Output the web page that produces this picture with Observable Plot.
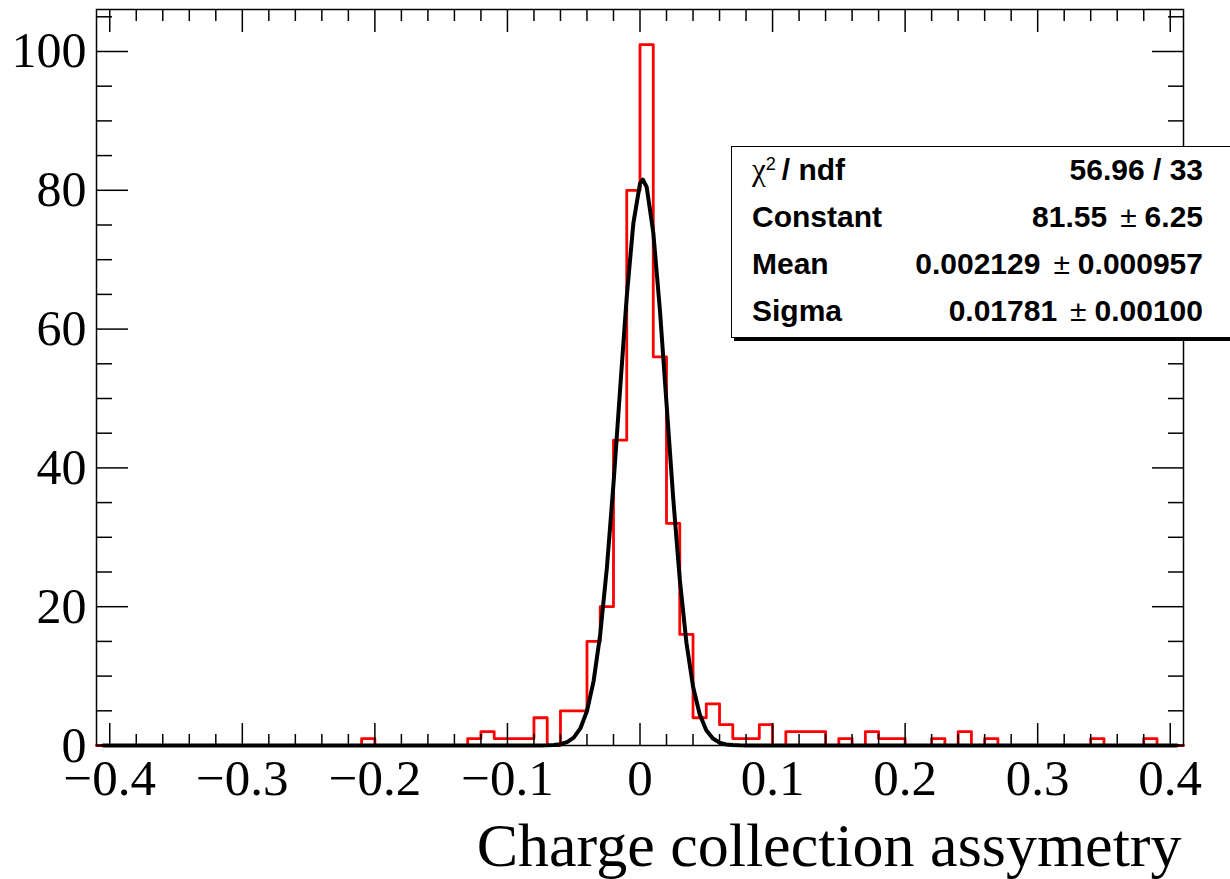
<!DOCTYPE html>
<html>
<head>
<meta charset="utf-8">
<script src="https://cdn.jsdelivr.net/npm/d3@7"></script>
<script src="https://cdn.jsdelivr.net/npm/@observablehq/plot@0.6"></script>
<style>
html, body { margin: 0; padding: 0; background: #fff; overflow: hidden; }
#wrap { position: relative; width: 1230px; height: 879px; }
#stats {
  position: absolute; left: 731px; top: 146px; width: 560px; height: 190px;
  border: 1.5px solid #000; background: #fff; box-shadow: 3px 3px 0 #000;
  font-family: "Liberation Sans", Arial, sans-serif; font-weight: bold; font-size: 30px; color: #000;
}
.row { position: absolute; left: 0; width: 471px; height: 30px; line-height: 30px; }
.lab { position: absolute; left: 20px; top: 0; white-space: pre; }
.val { position: absolute; right: 0; top: 0; white-space: pre; }
.pm { font-weight: normal; margin: 0 8px 0 13px; }
.chi { font-family: "Liberation Serif", serif; font-weight: normal; font-size: 31px; }
.sup { font-weight: normal; font-size: 18px; vertical-align: 0.55em; line-height: 0; margin-right: 6px; }
</style>
</head>
<body>
<div id="wrap"><div id="chart"></div><div id="stats"></div></div>
<script>
// Histogram binning (ROOT TH1: 82 bins from -0.41 to 0.41)
const xMin = -0.41, xMax = 0.41, binWidth = 0.01;
const counts = [
  0,0,0,0,0,0,0,0,0,0,
  0,0,0,0,0,0,0,0,0,0,
  1,0,0,0,0,0,0,0,1,2,
  1,1,1,4,0,5,5,15,20,44,
  80,101,56,32,16,4,6,3,1,1,
  3,0,2,2,2,0,1,0,2,1,
  1,0,0,1,0,2,0,1,0,0,
  0,0,0,0,0,1,0,0,0,1,
  0,0
];

// Gaussian fit curve points
const fitX = [-0.405,-0.08,-0.075,-0.07,-0.065,-0.06,-0.055,-0.05,-0.045,-0.04,-0.035,-0.03,-0.025,-0.02,-0.015,-0.01,-0.005,0,0.0021,0.005,0.01,0.015,0.02,0.025,0.03,0.035,0.04,0.045,0.05,0.055,0.06,0.065,0.07,0.075,0.08,0.405];
const fitY = [0,0.002,0.007,0.022,0.067,0.186,0.476,1.125,2.46,4.97,9.28,16.02,25.56,37.69,51.35,64.67,75.27,80.97,81.55,80.50,73.96,62.81,49.29,35.76,23.97,14.85,8.50,4.50,2.20,1.00,0.415,0.160,0.057,0.019,0.006,0];

// Axes
const yMax = 106.05;
const xMajor = [-0.4,-0.3,-0.2,-0.1,0,0.1,0.2,0.3,0.4];
const xTickLabels = ["\u22120.4","\u22120.3","\u22120.2","\u22120.1","0","0.1","0.2","0.3","0.4"];
const xMinor = [-0.38,-0.36,-0.34,-0.32,-0.28,-0.26,-0.24,-0.22,-0.18,-0.16,-0.14,-0.12,-0.08,-0.06,-0.04,-0.02,
                0.02,0.04,0.06,0.08,0.12,0.14,0.16,0.18,0.22,0.24,0.26,0.28,0.32,0.34,0.36,0.38];
const yMajor = [0,20,40,60,80,100];
const yTickLabels = ["0","20","40","60","80","100"];
const yMinor = [5,10,15,25,30,35,45,50,55,65,70,75,85,90,95,105];
const xTitle = "Charge collection assymetry";

// Stats box
const statLabels = ["\u03c7\u00b2 / ndf", "Constant", "Mean", "Sigma"];
const statValues = [["56.96 / 33"], ["81.55", "6.25"], ["0.002129", "0.000957"], ["0.01781", "0.00100"]];

// Build tables
const histTable = counts.map((c, i) => ({x: xMin + i * binWidth, y: c}));
histTable.push({x: xMax, y: counts[counts.length - 1]});
const fitTable = fitX.map((x, i) => ({x, y: fitY[i]}));

const serif = "Liberation Serif, Times New Roman, serif";
const tickStyle = {strokeWidth: 1.5, tickFormat: () => "", label: null};

const chart = Plot.plot({
  width: 1230,
  height: 879,
  marginLeft: 96,
  marginRight: 47,
  marginTop: 9,
  marginBottom: 134,
  style: {background: "white", color: "black"},
  x: {domain: [xMin, xMax]},
  y: {domain: [0, yMax]},
  marks: [
    Plot.line(histTable, {x: "x", y: "y", curve: "step-after", stroke: "#ff0000", strokeWidth: 2.8}),
    Plot.line(fitTable, {x: "x", y: "y", stroke: "#000", strokeWidth: 4, strokeLinejoin: "round"}),
    // inward ticks on all four sides
    Plot.axisX({anchor: "bottom", ticks: xMajor, tickSize: -22, ...tickStyle}),
    Plot.axisX({anchor: "bottom", ticks: xMinor, tickSize: -11, ...tickStyle}),
    Plot.axisX({anchor: "top", ticks: xMajor, tickSize: -22, ...tickStyle}),
    Plot.axisX({anchor: "top", ticks: xMinor, tickSize: -11, ...tickStyle}),
    Plot.axisY({anchor: "left", ticks: yMajor, tickSize: -32, ...tickStyle}),
    Plot.axisY({anchor: "left", ticks: yMinor, tickSize: -16, ...tickStyle}),
    Plot.axisY({anchor: "right", ticks: yMajor, tickSize: -32, ...tickStyle}),
    Plot.axisY({anchor: "right", ticks: yMinor, tickSize: -16, ...tickStyle}),
    // tick labels
    Plot.axisX({anchor: "bottom", ticks: xMajor, tickSize: 0, tickPadding: 13, label: null,
      tickFormat: d => xTickLabels[xMajor.indexOf(d)], fontSize: 51, fontFamily: serif}),
    Plot.axisY({anchor: "left", ticks: yMajor, tickSize: 0, tickPadding: 10, label: null,
      tickFormat: d => yTickLabels[yMajor.indexOf(d)], fontSize: 50, fontFamily: serif}),
    Plot.frame({stroke: "#000", strokeWidth: 1.5}),
    Plot.text([xTitle], {frameAnchor: "bottom-right", text: d => d, textAnchor: "end", lineAnchor: "middle",
      dy: 101, dx: -2, fontSize: 62, fontFamily: serif, fill: "#000"})
  ]
});
document.getElementById("chart").appendChild(chart);

// Stats box contents
const stats = document.getElementById("stats");
const rowTops = [7.5, 54.5, 101.5, 148.5];
statLabels.forEach((lab, i) => {
  const row = document.createElement("div");
  row.className = "row";
  row.style.top = rowTops[i] + "px";
  const l = document.createElement("span");
  l.className = "lab";
  if (i === 0) {
    l.innerHTML = '<span class="chi">\u03c7</span><span class="sup">2</span>/ ndf';
  } else {
    l.textContent = lab;
  }
  const v = document.createElement("span");
  v.className = "val";
  const parts = statValues[i];
  if (parts.length === 1) {
    v.textContent = parts[0];
  } else {
    v.appendChild(document.createTextNode(parts[0]));
    const pm = document.createElement("span");
    pm.className = "pm";
    pm.textContent = "\u00b1";
    v.appendChild(pm);
    v.appendChild(document.createTextNode(parts[1]));
  }
  row.appendChild(l);
  row.appendChild(v);
  stats.appendChild(row);
});
</script>
</body>
</html>
